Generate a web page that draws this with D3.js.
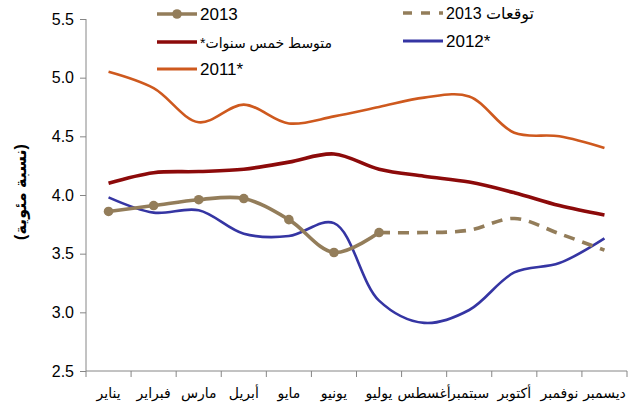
<!DOCTYPE html>
<html>
<head>
<meta charset="utf-8">
<style>
  body { margin: 0; background: #fff; }
  svg text { font-family: "Liberation Sans", Arial, "DejaVu Sans", sans-serif; fill: #000; }
</style>
</head>
<body>
<script src="https://cdn.jsdelivr.net/npm/d3@7"></script>
<script>
// *** DATA ***
var months = ['يناير','فبراير','مارس','أبريل','مايو','يونيو','يوليو','أغسطس','سبتمبر','أكتوبر','نوفمبر','ديسمبر'];
var yTicks = [2.5, 3.0, 3.5, 4.0, 4.5, 5.0, 5.5];

var v2011 = [5.05, 4.91, 4.62, 4.77, 4.61, 4.67, 4.75, 4.83, 4.84, 4.53, 4.50, 4.40];
var vAvg  = [4.10, 4.19, 4.20, 4.22, 4.28, 4.35, 4.22, 4.16, 4.11, 4.02, 3.91, 3.83];
var v2012 = [3.98, 3.85, 3.87, 3.67, 3.65, 3.76, 3.10, 2.91, 3.02, 3.34, 3.42, 3.63];
var v2013 = [3.86, 3.91, 3.96, 3.97, 3.79, 3.51, 3.68];
var vFcst = [null, null, null, null, null, null, 3.68, 3.68, 3.70, 3.80, 3.67, 3.53];

// *** LAYOUT ***
var W = 635, H = 416;
var pLeft = 86, pRight = 627, pTop = 19, pBottom = 371;

var svg = d3.select('body').append('svg').attr('width', W).attr('height', H);

var x = d3.scaleBand().domain(months).range([pLeft, pRight]);
var y = d3.scaleLinear().domain([2.5, 5.5]).range([pBottom, pTop]);

// axes
var axisColor = '#868686';
var yAxis = svg.append('g').attr('transform', 'translate(' + pLeft + ',0)')
  .call(d3.axisLeft(y).tickValues(yTicks).tickFormat(d3.format('.1f')).tickSize(6).tickPadding(6));
yAxis.selectAll('text').style('font-size', '16px');

var xAxis = svg.append('g').attr('transform', 'translate(0,' + pBottom + ')')
  .call(d3.axisBottom(x).tickSize(0).tickPadding(17));
xAxis.selectAll('text').style('font-size', '14px');
// band-edge ticks
xAxis.selectAll('.edge').data(d3.range(months.length + 1)).enter().append('line')
  .attr('x1', function(i){ return pLeft + i * x.step(); })
  .attr('x2', function(i){ return pLeft + i * x.step(); })
  .attr('y1', 0).attr('y2', 6);

svg.selectAll('.domain, .tick line, g line').attr('stroke', axisColor);
yAxis.select('.domain').attr('d', 'M0,' + pBottom + 'V' + pTop).attr('stroke', axisColor);
xAxis.select('.domain').attr('d', 'M' + pLeft + ',0H' + pRight).attr('stroke', axisColor);

// y-axis title
svg.append('text')
  .attr('transform', 'translate(26,192) rotate(-90)')
  .attr('text-anchor', 'middle')
  .attr('direction', 'rtl')
  .style('font-size', '16px').style('font-weight', 'bold')
  .text('(نسبة مئوية)');

// *** LINES ***
function cx(i){ return x(months[i]) + x.bandwidth() / 2; }
var line = d3.line()
  .defined(function(d){ return d != null; })
  .x(function(d, i){ return cx(i); })
  .y(function(d){ return y(d); })
  .curve(d3.curveCatmullRom.alpha(0.5));

var series = [
  {vals: v2011, color: '#CE591E', width: 2.6, dash: null},
  {vals: vAvg,  color: '#8C0A0A', width: 3.6, dash: null},
  {vals: v2012, color: '#3535A3', width: 2.6, dash: null},
  {vals: vFcst, color: '#937D5A', width: 3.6, dash: '11,8'},
  {vals: v2013, color: '#937D5A', width: 3.6, dash: null}
];

series.forEach(function(s){
  svg.append('path').datum(s.vals)
    .attr('d', line)
    .attr('fill', 'none')
    .attr('stroke', s.color)
    .attr('stroke-width', s.width)
    .attr('stroke-dasharray', s.dash);
});

svg.selectAll('.m2013').data(v2013).enter().append('circle')
  .attr('cx', function(d, i){ return cx(i); })
  .attr('cy', function(d){ return y(d); })
  .attr('r', 4.8)
  .attr('fill', '#937D5A');

// *** LEGEND ***
var legend = [
  {label: '2013', color: '#937D5A', width: 3.6, dash: null, marker: true, lx: 157, ly: 14, fs: 17},
  {label: '*متوسط خمس سنوات', color: '#8C0A0A', width: 3.6, dash: null, marker: false, lx: 157, ly: 42, fs: 14},
  {label: '2011*', color: '#CE591E', width: 3, dash: null, marker: false, lx: 157, ly: 69, fs: 17},
  {label: 'توقعات 2013', color: '#937D5A', width: 3.6, dash: '9,9', marker: false, lx: 403, ly: 13, fs: 16},
  {label: '2012*', color: '#3535A3', width: 3, dash: null, marker: false, lx: 403, ly: 41, fs: 17}
];

var lg = svg.selectAll('.lg').data(legend).enter().append('g');
lg.append('line')
  .attr('x1', function(d){ return d.lx; })
  .attr('x2', function(d){ return d.lx + 40; })
  .attr('y1', function(d){ return d.ly; })
  .attr('y2', function(d){ return d.ly; })
  .attr('stroke', function(d){ return d.color; })
  .attr('stroke-width', function(d){ return d.width; })
  .attr('stroke-dasharray', function(d){ return d.dash; });
lg.filter(function(d){ return d.marker; }).append('circle')
  .attr('cx', function(d){ return d.lx + 20; })
  .attr('cy', function(d){ return d.ly; })
  .attr('r', 4.8)
  .attr('fill', function(d){ return d.color; });
lg.append('text')
  .attr('x', function(d){ return d.lx + 43; })
  .attr('y', function(d){ return d.ly + 6; })
  .style('font-size', function(d){ return d.fs + 'px'; })
  .text(function(d){ return d.label; });
</script>
</body>
</html>
